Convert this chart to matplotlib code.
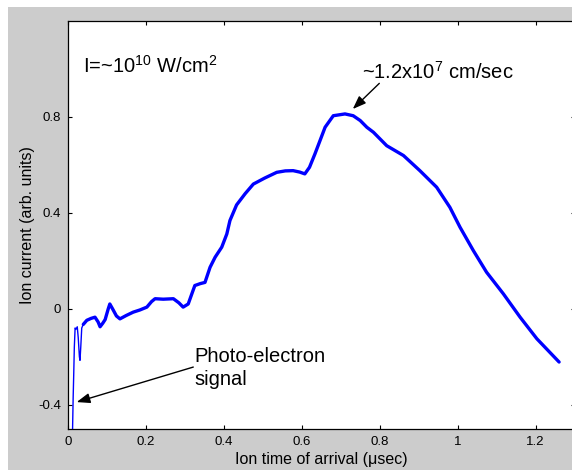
import matplotlib
matplotlib.use("Agg")
import matplotlib.pyplot as plt
from matplotlib.patches import Rectangle

plt.rcParams['font.family'] = ['Liberation Sans', 'DejaVu Sans']
plt.rcParams['mathtext.fontset'] = 'custom'
plt.rcParams['mathtext.rm'] = 'Liberation Sans'
plt.rcParams['mathtext.it'] = 'Liberation Sans:italic'

# Time of arrival (microseconds) and ion current (arb. units)
t_us = [0.0125, 0.0140, 0.0155, 0.0170, 0.0190, 0.0215, 0.0245, 0.0270, 0.0300,
        0.0315, 0.0335, 0.0360, 0.0400, 0.0490, 0.0600, 0.0700, 0.0780, 0.0830,
        0.0900, 0.0960, 0.1040, 0.1080, 0.1150, 0.1250, 0.1340, 0.1500, 0.1680,
        0.1850, 0.2030, 0.2150, 0.2240, 0.2450, 0.2710, 0.2850, 0.2960, 0.3090,
        0.3200, 0.3260, 0.3400, 0.3520, 0.3650, 0.3780, 0.3950, 0.4080, 0.4160,
        0.4330, 0.4550, 0.4760, 0.5050, 0.5360, 0.5580, 0.5780, 0.5950, 0.6080,
        0.6200, 0.6340, 0.6600, 0.6810, 0.7110, 0.7320, 0.7500, 0.7670, 0.7840,
        0.8010, 0.8180, 0.8610, 0.9030, 0.9460, 0.9800, 1.0060, 1.0400, 1.0740,
        1.1170, 1.1600, 1.2030, 1.2600]
current = [-0.500, -0.370, -0.270, -0.160, -0.080, -0.085, -0.075, -0.120, -0.200,
           -0.215, -0.160, -0.080, -0.065, -0.048, -0.040, -0.035, -0.055, -0.075,
           -0.060, -0.045, 0.000, 0.020, 0.000, -0.030, -0.042, -0.028, -0.014,
           -0.005, 0.007, 0.030, 0.042, 0.040, 0.042, 0.025, 0.007, 0.020,
           0.070, 0.097, 0.105, 0.110, 0.173, 0.215, 0.257, 0.312, 0.368,
           0.433, 0.480, 0.520, 0.545, 0.569, 0.575, 0.576, 0.570, 0.5625,
           0.590, 0.646, 0.757, 0.805, 0.8125, 0.805, 0.785, 0.757, 0.736,
           0.708, 0.680, 0.639, 0.576, 0.507, 0.423, 0.340, 0.243, 0.1525,
           0.0625, -0.035, -0.125, -0.222]

x_ticks = [0, 0.2, 0.4, 0.6, 0.8, 1.0, 1.2]
x_tick_labels = ['0', '0.2', '0.4', '0.6', '0.8', '1', '1.2']
y_ticks = [-0.4, 0, 0.4, 0.8]
y_tick_labels = ['-0.4', '0', '0.4', '0.8']

W, H = 572, 470
fig = plt.figure(figsize=(W / 100, H / 100), dpi=100, facecolor='white')
# grey figure panel behind the axes
fig.patches.append(Rectangle((8 / W, 0), 1, 1 - 7 / H, transform=fig.transFigure,
                             facecolor='#cccccc', edgecolor='none', zorder=-10))

ax = fig.add_axes([67.7 / W, 1 - 428.7 / H, (574.7 - 67.7) / W, (428.7 - 21) / H])
ax.set_facecolor('white')

# thin line for the steep photo-electron spike, thicker for the noisy ion signal
ax.plot(t_us, current, color='#0000ff', lw=1.0, solid_joinstyle='round')
n0 = 12
ax.plot(t_us[n0:], current[n0:], color='#0000ff', lw=2.4,
        solid_joinstyle='round', solid_capstyle='round')

ax.set_xlim(0, 1.3)
ax.set_ylim(-0.5, 1.2)
ax.set_xticks(x_ticks)
ax.set_xticklabels(x_tick_labels)
ax.set_yticks(y_ticks)
ax.set_yticklabels(y_tick_labels)
ax.tick_params(direction='in', length=3.2, width=0.8, labelsize=9.5,
               top=True, right=True, pad=5, colors='black')
for s in ax.spines.values():
    s.set_linewidth(0.9)

ax.set_xlabel('Ion time of arrival (\u03bcsec)', fontsize=11.5, labelpad=3)
ax.set_ylabel('Ion current (arb. units)', fontsize=11.5, labelpad=2)

ax.text(0.0385, 0.986, r'I=~10$^{10}$ W/cm$^{2}$', fontsize=14.5, ha='left',
        va='baseline')
ax.text(0.754, 0.958, r'~1.2x10$^{7}$ cm/sec', fontsize=14.5, ha='left',
        va='baseline')
ax.text(0.324, -0.22, 'Photo-electron', fontsize=14.5, ha='left', va='baseline')
ax.text(0.324, -0.317, 'signal', fontsize=14.5, ha='left', va='baseline')

arrow = dict(arrowstyle='-|>,head_length=0.8,head_width=0.3', color='black',
             lw=1.0, shrinkA=0, shrinkB=0)
ax.annotate('', xy=(0.731, 0.833), xytext=(0.799, 0.94), arrowprops=arrow)
ax.annotate('', xy=(0.023, -0.389), xytext=(0.322, -0.243), arrowprops=arrow)

fig.savefig('out.png', dpi=100, facecolor=fig.get_facecolor())
